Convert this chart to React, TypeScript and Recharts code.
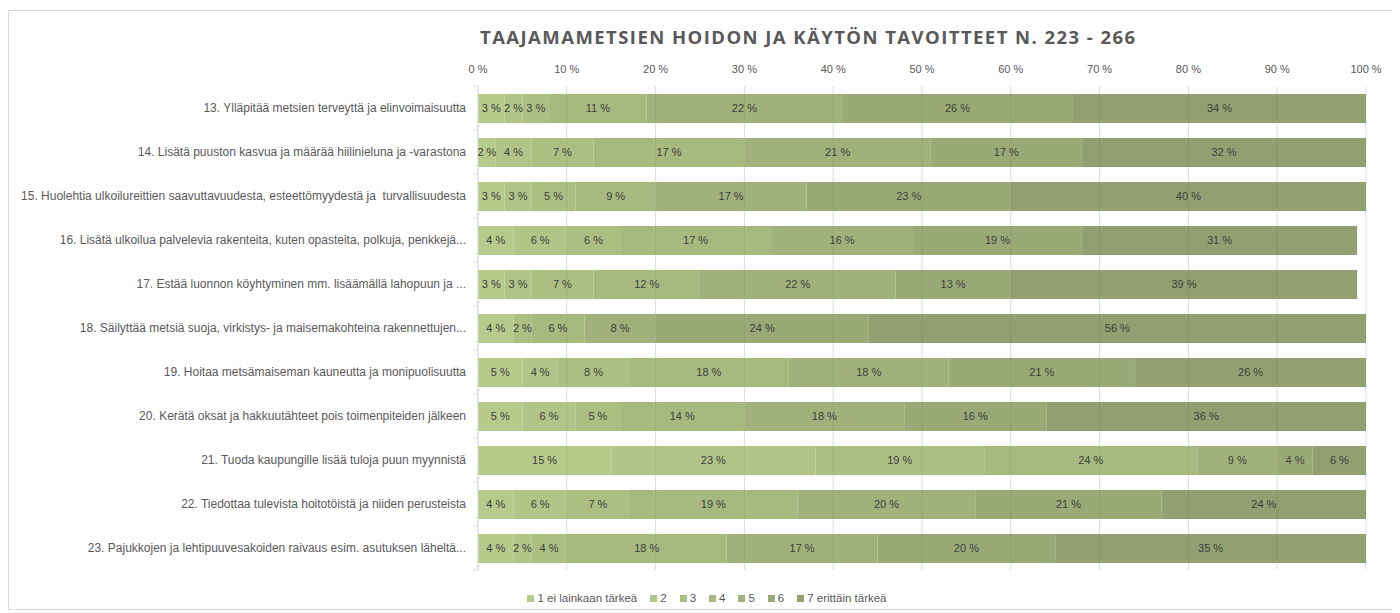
import React from "react";
import { Bar, BarChart, CartesianGrid, LabelList, ReferenceLine, XAxis, YAxis } from "recharts";

// Categories (top to bottom)
const questions = [
  "13. Ylläpitää metsien terveyttä ja elinvoimaisuutta",
  "14. Lisätä puuston kasvua ja määrää hiilinieluna ja -varastona",
  "15. Huolehtia ulkoilureittien saavuttavuudesta, esteettömyydestä ja\u00a0 turvallisuudesta",
  "16. Lisätä ulkoilua palvelevia rakenteita, kuten opasteita, polkuja, penkkejä...",
  "17. Estää luonnon köyhtyminen mm. lisäämällä lahopuun ja ...",
  "18. Säilyttää metsiä suoja, virkistys- ja maisemakohteina rakennettujen...",
  "19. Hoitaa metsämaiseman kauneutta ja monipuolisuutta",
  "20. Kerätä oksat ja hakkuutähteet pois toimenpiteiden jälkeen",
  "21. Tuoda kaupungille lisää tuloja puun myynnistä",
  "22. Tiedottaa tulevista hoitotöistä ja niiden perusteista",
  "23. Pajukkojen ja lehtipuuvesakoiden raivaus esim. asutuksen läheltä...",
];

// Series (share of answers, %)
const s1 = [3, 2, 3, 4, 3, 4, 5, 5, 15, 4, 4];
const s2 = [2, 4, 3, 6, 3, 0, 4, 6, 23, 6, 2];
const s3 = [3, 7, 5, 6, 7, 2, 8, 5, 19, 7, 4];
const s4 = [11, 17, 9, 17, 12, 6, 18, 14, 24, 19, 18];
const s5 = [22, 21, 17, 16, 22, 8, 18, 18, 9, 20, 17];
const s6 = [26, 17, 23, 19, 13, 24, 21, 16, 4, 21, 20];
const s7 = [34, 32, 40, 31, 39, 56, 26, 36, 6, 24, 35];

const seriesNames = ["1 ei lainkaan tärkeä", "2", "3", "4", "5", "6", "7 erittäin tärkeä"];
const seriesValues = [s1, s2, s3, s4, s5, s6, s7];
const seriesColors = ["#b5ca8b", "#b0c587", "#abbf83", "#a6b97f", "#a0b17b", "#9aaa76", "#929f70"];

const xTicks = [0, 10, 20, 30, 40, 50, 60, 70, 80, 90, 100];

const title = "TAAJAMAMETSIEN HOIDON JA KÄYTÖN TAVOITTEET N. 223 - 266";

const data = questions.map((name, i) => {
  const row: Record<string, string | number> = { name };
  seriesValues.forEach((vals, k) => {
    row[`s${k}`] = vals[i];
  });
  return row;
});

const FONT = "'Liberation Sans', Arial, sans-serif";
const pct = (v: number) => `${v}\u00a0%`;

const CategoryTick = (props: any) => {
  const { x, y, payload, index } = props;
  const axisX = x + 12;
  return (
    <g>
      <text x={x} y={y} dy={4} textAnchor="end" fontSize={12} fill="#595959" fontFamily={FONT}>
        {payload.value}
      </text>
      {index === 0 && <line x1={axisX - 5} x2={axisX} y1={y - 22} y2={y - 22} stroke="#d9d9d9" />}
      <line x1={axisX - 5} x2={axisX} y1={y + 22} y2={y + 22} stroke="#d9d9d9" />
    </g>
  );
};

export default function App() {
  return (
    <div
      style={{
        position: "relative",
        marginTop: 2,
        width: 1388,
        height: 600,
        boxSizing: "border-box",
        border: "1px solid #d9d9d9",
        background: "#fff",
      }}
    >
      <svg width={1386} height={50} style={{ position: "absolute", left: 0, top: 0 }}>
        <text
          x={471}
          y={33}
          textLength={655}
          lengthAdjust="spacing"
          fontSize={18.5}
          fontWeight={700}
          fill="#595959"
          fontFamily="'Open Sans', sans-serif"
        >
          {title}
        </text>
      </svg>
      <BarChart
        width={1386}
        height={598}
        data={data}
        layout="vertical"
        margin={{ top: 45, right: 29, bottom: 39, left: 9 }}
        barSize={29}
      >
        <CartesianGrid horizontal={false} stroke="#e6e6e6" />
        <XAxis
          type="number"
          orientation="top"
          domain={[0, 100]}
          ticks={xTicks}
          allowDataOverflow
          height={30}
          axisLine={false}
          tickLine={false}
          tickSize={0}
          tickMargin={13}
          tickFormatter={pct}
          tick={{ fontSize: 11, fill: "#595959", fontFamily: FONT }}
          interval={0}
        />
        <YAxis
          type="category"
          dataKey="name"
          width={460}
          axisLine={{ stroke: "#d9d9d9" }}
          tickLine={false}
          tickSize={0}
          tickMargin={12}
          interval={0}
          tick={<CategoryTick />}
        />
        {seriesNames.map((n, k) => (
          <Bar key={n} dataKey={`s${k}`} name={n} stackId="a" fill={seriesColors[k]} isAnimationActive={false}>
            <LabelList
              dataKey={`s${k}`}
              position="center"
              formatter={(v: any) => pct(v)}
              style={{ fontSize: 11, fill: "#404040", fontFamily: FONT }}
            />
          </Bar>
        ))}
        {xTicks.slice(1).map((t) => (
          <ReferenceLine key={t} x={t} stroke="#000" strokeOpacity={0.05} ifOverflow="hidden" />
        ))}
      </BarChart>
      <div
        style={{
          position: "absolute",
          top: 580,
          left: 0,
          width: 1386,
          display: "flex",
          justifyContent: "center",
          paddingLeft: 10,
          boxSizing: "border-box",
          gap: 13,
          fontFamily: FONT,
          fontSize: 11.5,
          color: "#595959",
          lineHeight: "14px",
        }}
      >
        {seriesNames.map((n, k) => (
          <div key={n} style={{ display: "flex", alignItems: "center" }}>
            <span style={{ display: "inline-block", width: 7, height: 7, background: seriesColors[k], marginRight: 3 }} />
            <span>{n}</span>
          </div>
        ))}
      </div>
    </div>
  );
}
